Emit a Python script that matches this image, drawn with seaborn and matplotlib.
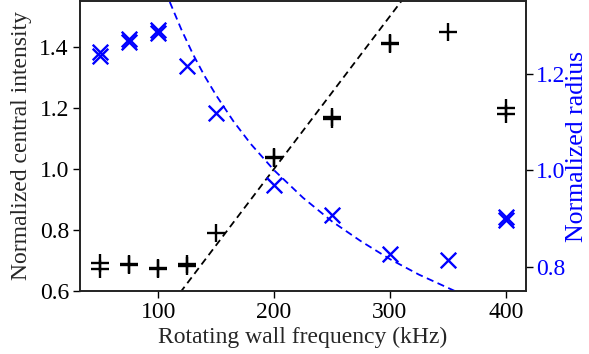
import matplotlib
matplotlib.use("Agg")
import matplotlib.pyplot as plt
import seaborn as sns
import pandas as pd

# Central intensity (left axis, black plus markers)
freq_int = [50, 50, 75, 75, 100, 100, 125, 125, 150, 200, 200, 250, 250, 300, 300, 350, 400, 400]
intensity = [0.693, 0.671, 0.690, 0.685, 0.676, 0.671, 0.690, 0.683, 0.789, 1.038, 1.035,
             1.171, 1.165, 1.414, 1.409, 1.447, 1.199, 1.180]

# Radius (right axis, blue x markers)
freq_rad = [50, 50, 75, 75, 100, 100, 125, 150, 200, 250, 300, 350, 400, 400]
radius = [1.245, 1.237, 1.271, 1.266, 1.290, 1.283, 1.215, 1.119, 0.969, 0.907, 0.826,
          0.814, 0.903, 0.896]

# Dashed fit lines
fit_int_freq = [119, 312]
fit_int_val = [0.595, 1.56]
fit_rad_freq = [110, 120, 130, 140, 150, 165, 180, 200, 225, 250, 275, 300, 325, 357]
fit_rad_val = [1.348, 1.291, 1.240, 1.195, 1.155, 1.101, 1.054, 1.000, 0.943, 0.894,
               0.853, 0.816, 0.784, 0.749]

xticks = [100, 200, 300, 400]
yticks_left = [0.6, 0.8, 1.0, 1.2, 1.4]
yticks_right = [0.8, 1.0, 1.2]

sns.set_style("ticks")
plt.rcParams["font.family"] = ["Liberation Serif", "DejaVu Serif"]
plt.rcParams["mathtext.fontset"] = "stix"

fig = plt.figure(figsize=(5.89, 3.54), dpi=100)
ax = fig.add_axes([80 / 589, 63 / 354, 446 / 589, 290 / 354])
ax2 = ax.twinx()

df_int = pd.DataFrame({"f": freq_int, "v": intensity})
df_rad = pd.DataFrame({"f": freq_rad, "v": radius})
df_fi = pd.DataFrame({"f": fit_int_freq, "v": fit_int_val})
df_fr = pd.DataFrame({"f": fit_rad_freq, "v": fit_rad_val})

sns.lineplot(data=df_fi, x="f", y="v", ax=ax, color="black", linestyle=(0, (4, 2.5)),
             linewidth=1.3, sort=False)
sns.scatterplot(data=df_int, x="f", y="v", ax=ax, marker="+", color="black", s=160,
                linewidth=1.7, zorder=3)
sns.lineplot(data=df_fr, x="f", y="v", ax=ax2, color="blue", linestyle=(0, (4, 2.5)),
             linewidth=1.3, sort=False)
sns.scatterplot(data=df_rad, x="f", y="v", ax=ax2, marker="x", color="blue", s=125,
                linewidth=1.7, zorder=3)

ax.set_xlim(32.5, 417.5)
ax.set_ylim(0.6, 1.55)
ax2.set_ylim(0.75, 1.35)
ax.set_xticks(xticks)
ax.set_yticks(yticks_left)
ax2.set_yticks(yticks_right)
ax.set_yticklabels([f"{v:.1f}" for v in yticks_left])
ax2.set_yticklabels([f"{v:.1f}" for v in yticks_right])

fs = 17
ax.tick_params(labelsize=fs, length=5, width=1, colors="black", pad=3)
ax2.tick_params(labelsize=fs, length=5, width=1, labelcolor="blue", color="black", pad=2.5)
ax.set_xlabel("Rotating wall frequency (kHz)", fontsize=fs, labelpad=3)
ax.set_ylabel("Normalized central intensity", fontsize=fs, labelpad=5)
ax2.set_ylabel("Normalized radius", fontsize=18.5, color="blue", labelpad=0)

for a in (ax, ax2):
    for s in a.spines.values():
        s.set_visible(True)
        s.set_color("#222222")
        s.set_linewidth(1.2)

fig.savefig("out.png", dpi=100)
